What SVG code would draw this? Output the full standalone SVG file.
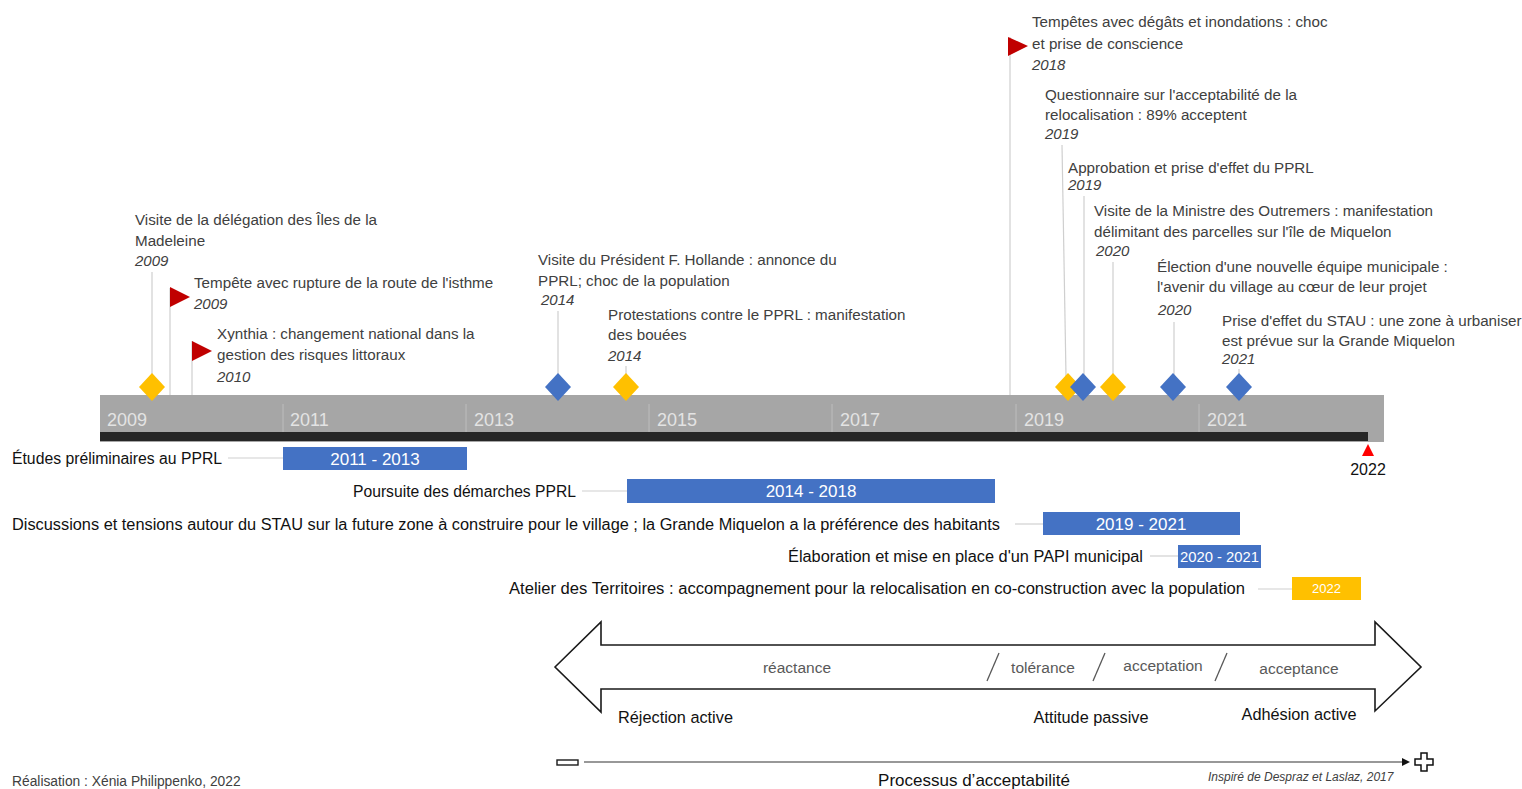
<svg xmlns="http://www.w3.org/2000/svg" width="1522" height="789" viewBox="0 0 1522 789">
<style>
.t{font-family:"Liberation Sans",Arial,sans-serif;font-size:15.2px;fill:#404040}
.y{font-family:"Liberation Sans",Arial,sans-serif;font-size:15px;font-style:italic;fill:#404040}
.yr{font-family:"Liberation Sans",Arial,sans-serif;font-size:18px;fill:#e3e3e3}
.bl{font-family:"Liberation Sans",Arial,sans-serif;font-size:16px;fill:#111}
.bt{font-family:"Liberation Sans",Arial,sans-serif;font-size:17px;fill:#fff;text-anchor:middle}
.st{font-family:"Liberation Sans",Arial,sans-serif;font-size:15.5px;fill:#595959;text-anchor:middle}
.lb{font-family:"Liberation Sans",Arial,sans-serif;font-size:16.3px;fill:#111}
.stem{stroke:#cfcfcf;stroke-width:1.2}
.conn{stroke:#d0d0d0;stroke-width:1.2}
.dy{fill:#ffc000}
.db{fill:#4472c4}
.flag{fill:#c00000}
</style>

<g id="timeline">
<rect x="100" y="395" width="1284" height="47" fill="#a6a6a6"/>
<g stroke="#bdbdbd" stroke-width="1">
<line x1="283" y1="404" x2="283" y2="432"/>
<line x1="466" y1="404" x2="466" y2="432"/>
<line x1="649" y1="404" x2="649" y2="432"/>
<line x1="832" y1="404" x2="832" y2="432"/>
<line x1="1016" y1="404" x2="1016" y2="432"/>
<line x1="1199" y1="404" x2="1199" y2="432"/>
</g>
<rect x="100" y="432" width="1268" height="9" fill="#262626"/>
<text class="yr" x="107" y="426">2009</text>
<text class="yr" x="290" y="426">2011</text>
<text class="yr" x="474" y="426">2013</text>
<text class="yr" x="657" y="426">2015</text>
<text class="yr" x="840" y="426">2017</text>
<text class="yr" x="1024" y="426">2019</text>
<text class="yr" x="1207" y="426">2021</text>
<polygon points="1368,444 1374,456 1362,456" fill="#ff0000"/>
<text class="bl" x="1368" y="475" text-anchor="middle">2022</text>
</g>

<g id="connectors">
<line class="stem" x1="152" y1="272" x2="152" y2="376"/>
<line class="stem" x1="170" y1="288" x2="170" y2="395"/>
<line class="stem" x1="192" y1="341" x2="192" y2="395"/>
<line class="stem" x1="558" y1="311" x2="558" y2="376"/>
<line class="stem" x1="626" y1="366" x2="626" y2="376"/>
<line class="stem" x1="1010" y1="37" x2="1010" y2="395"/>
<line class="stem" x1="1062" y1="145" x2="1066" y2="376"/>
<line class="stem" x1="1084" y1="196" x2="1084" y2="376"/>
<line class="stem" x1="1113" y1="262" x2="1113" y2="376"/>
<line class="stem" x1="1174" y1="322" x2="1174" y2="376"/>
<line class="stem" x1="1239" y1="369" x2="1239" y2="376"/>
<line class="conn" x1="228" y1="458" x2="283" y2="458"/>
<line class="conn" x1="582" y1="491" x2="627" y2="491"/>
<line class="conn" x1="1015" y1="524" x2="1043" y2="524"/>
<line class="conn" x1="1150" y1="556" x2="1178" y2="556"/>
<line class="conn" x1="1258" y1="589" x2="1292" y2="589"/>
</g>

<g id="ev-madeleine">
<polygon class="dy" points="152,373 165,387 152,401 139,387"/>
<text class="t" x="135" y="225">Visite de la délégation des Îles de la</text>
<text class="t" x="135" y="246">Madeleine</text>
<text class="y" x="135" y="266">2009</text>
</g>
<g id="ev-isthme">
<polygon class="flag" points="170,287 190,297 170,307"/>
<text class="t" x="194" y="288">Tempête avec rupture de la route de l'isthme</text>
<text class="y" x="194" y="309">2009</text>
</g>
<g id="ev-xynthia">
<polygon class="flag" points="192,341 212,351 192,361"/>
<text class="t" x="217" y="339">Xynthia : changement national dans la</text>
<text class="t" x="217" y="360">gestion des risques littoraux</text>
<text class="y" x="217" y="382">2010</text>
</g>
<g id="ev-hollande">
<polygon class="db" points="558,373 571,387 558,401 545,387"/>
<text class="t" x="538" y="265">Visite du Président F. Hollande : annonce du</text>
<text class="t" x="538" y="286">PPRL; choc de la population</text>
<text class="y" x="541" y="305">2014</text>
</g>
<g id="ev-bouees">
<polygon class="dy" points="626,373 639,387 626,401 613,387"/>
<text class="t" x="608" y="320">Protestations contre le PPRL : manifestation</text>
<text class="t" x="608" y="340">des bouées</text>
<text class="y" x="608" y="361">2014</text>
</g>
<g id="ev-tempetes2018">
<polygon class="flag" points="1008,37 1028,46 1008,56"/>
<text class="t" x="1032" y="27">Tempêtes avec dégâts et inondations : choc</text>
<text class="t" x="1032" y="49">et prise de conscience</text>
<text class="y" x="1032" y="70">2018</text>
</g>
<g id="ev-questionnaire">
<polygon class="dy" points="1068,373 1081,387 1068,401 1055,387"/>
<text class="t" x="1045" y="100">Questionnaire sur l'acceptabilité de la</text>
<text class="t" x="1045" y="120">relocalisation : 89% acceptent</text>
<text class="y" x="1045" y="139">2019</text>
</g>
<g id="ev-pprl">
<polygon class="db" points="1083,373 1096,387 1083,401 1070,387"/>
<text class="t" x="1068" y="173">Approbation et prise d'effet du PPRL</text>
<text class="y" x="1068" y="190">2019</text>
</g>
<g id="ev-ministre">
<polygon class="dy" points="1113,373 1126,387 1113,401 1100,387"/>
<text class="t" x="1094" y="216">Visite de la Ministre des Outremers : manifestation</text>
<text class="t" x="1094" y="237">délimitant des parcelles sur l'île de Miquelon</text>
<text class="y" x="1096" y="256">2020</text>
</g>
<g id="ev-election">
<polygon class="db" points="1173,373 1186,387 1173,401 1160,387"/>
<text class="t" x="1157" y="272">Élection d'une nouvelle équipe municipale :</text>
<text class="t" x="1157" y="292">l'avenir du village au cœur de leur projet</text>
<text class="y" x="1158" y="315">2020</text>
</g>
<g id="ev-stau">
<polygon class="db" points="1239,373 1252,387 1239,401 1226,387"/>
<text class="t" x="1222" y="326">Prise d'effet du STAU : une zone à urbaniser</text>
<text class="t" x="1222" y="346">est prévue sur la Grande Miquelon</text>
<text class="y" x="1222" y="364">2021</text>
</g>

<g id="bar-etudes">
<text class="bl" x="12" y="464" textLength="210" lengthAdjust="spacingAndGlyphs">Études préliminaires au PPRL</text>
<rect x="283" y="447" width="184" height="23" fill="#4472c4"/>
<text class="bt" x="375" y="465">2011 - 2013</text>
</g>
<g id="bar-poursuite">
<text class="bl" x="353" y="497" textLength="223" lengthAdjust="spacingAndGlyphs">Poursuite des démarches PPRL</text>
<rect x="627" y="479" width="368" height="24" fill="#4472c4"/>
<text class="bt" x="811" y="497">2014 - 2018</text>
</g>
<g id="bar-discussions">
<text class="bl" x="12" y="530" textLength="988" lengthAdjust="spacingAndGlyphs">Discussions et tensions autour du STAU sur la future zone à construire pour le village ; la Grande Miquelon a la préférence des habitants</text>
<rect x="1043" y="512" width="197" height="23" fill="#4472c4"/>
<text class="bt" x="1141" y="530">2019 - 2021</text>
</g>
<g id="bar-papi">
<text class="bl" x="788" y="562" textLength="355" lengthAdjust="spacingAndGlyphs">Élaboration et mise en place d'un PAPI municipal</text>
<rect x="1178" y="545" width="83" height="23" fill="#4472c4"/>
<text class="bt" x="1219.5" y="562" style="font-size:14.8px">2020 - 2021</text>
</g>
<g id="bar-atelier">
<text class="bl" x="509" y="594" textLength="736" lengthAdjust="spacingAndGlyphs">Atelier des Territoires : accompagnement pour la relocalisation en co-construction avec la population</text>
<rect x="1292" y="577" width="69" height="23" fill="#ffc000"/>
<text class="bt" x="1326.5" y="593" style="font-size:13px">2022</text>
</g>

<g id="scale">
<polygon points="555,667 601,622 601,645 1375,645 1375,622 1421,667 1375,711 1375,689 601,689 601,712" fill="#fff" stroke="#1a1a1a" stroke-width="1.6" stroke-linejoin="miter"/>
<text class="st" x="797" y="673">réactance</text>
<line x1="987" y1="681" x2="999" y2="653" stroke="#595959" stroke-width="1.3"/>
<text class="st" x="1043" y="673">tolérance</text>
<line x1="1093" y1="681" x2="1105" y2="653" stroke="#595959" stroke-width="1.3"/>
<text class="st" x="1163" y="671">acceptation</text>
<line x1="1215" y1="681" x2="1227" y2="653" stroke="#595959" stroke-width="1.3"/>
<text class="st" x="1299" y="674">acceptance</text>
<text class="lb" x="618" y="723">Réjection active</text>
<text class="lb" x="1091" y="723" text-anchor="middle">Attitude passive</text>
<text class="lb" x="1299" y="720" text-anchor="middle">Adhésion active</text>
</g>

<g id="process">
<rect x="557" y="760" width="21" height="5" fill="#fff" stroke="#1a1a1a" stroke-width="1.4"/>
<line x1="584" y1="762" x2="1404" y2="762" stroke="#333" stroke-width="1.2"/>
<polygon points="1410,762 1402,758 1402,766" fill="#111"/>
<polygon points="1421,753 1427,753 1427,759 1433,759 1433,765 1427,765 1427,771 1421,771 1421,765 1415,765 1415,759 1421,759" fill="#fff" stroke="#111" stroke-width="1.5"/>
<text x="974" y="786" text-anchor="middle" style="font-family:'Liberation Sans',Arial,sans-serif;font-size:17px;fill:#111">Processus d’acceptabilité</text>
<text x="1208" y="781" style="font-family:'Liberation Sans',Arial,sans-serif;font-size:12px;font-style:italic;fill:#404040">Inspiré de Despraz et Laslaz, 2017</text>
</g>
<text x="12" y="786" style="font-family:'Liberation Sans',Arial,sans-serif;font-size:13.8px;fill:#404040">Réalisation : Xénia Philippenko, 2022</text>
</svg>
